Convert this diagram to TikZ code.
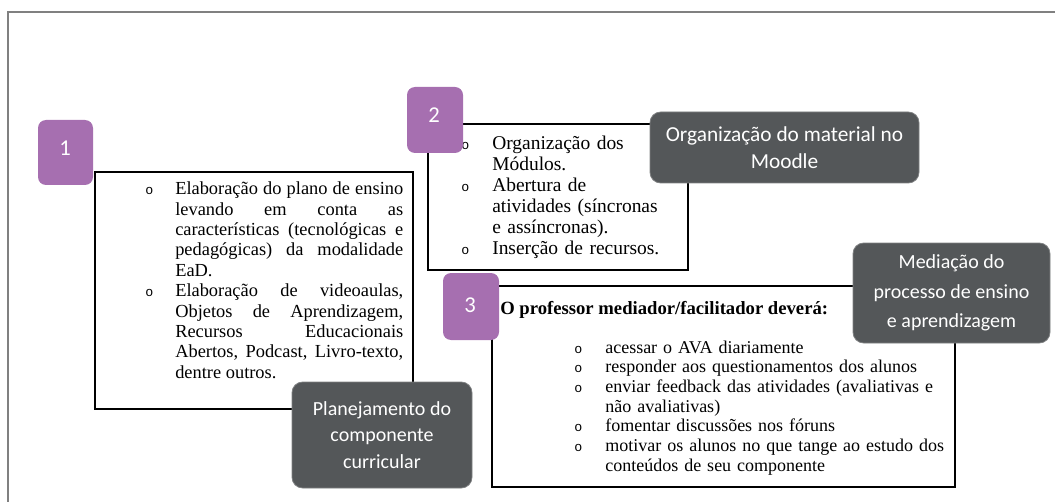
\documentclass[tikz,border=0pt]{standalone}
\usepackage{fontspec}
\setmainfont{Liberation Serif}
\newfontfamily\calibri{Carlito}
\newfontfamily\bulletfont{Liberation Mono}
\usepackage{tikz}
\definecolor{numpurple}{RGB}{166,111,176}
\definecolor{labelgray}{RGB}{84,87,89}
\definecolor{framegray}{RGB}{128,128,128}
\newcommand{\ringlabel}{\llap{\bulletfont\fontsize{10}{10}\selectfont o}}
\newenvironment{ringlist}[1]{\begin{list}{\ringlabel}{%
    \setlength{\leftmargin}{0pt}\setlength{\labelwidth}{0pt}%
    \setlength{\labelsep}{#1}\setlength{\itemindent}{0pt}%
    \setlength{\itemsep}{0pt}\setlength{\parsep}{0pt}%
    \setlength{\topsep}{0pt}\setlength{\partopsep}{0pt}}}{\end{list}}

\begin{document}
\begin{tikzpicture}[x=0.75pt,y=-0.75pt,
    listbox/.style={draw=black,line width=1pt},
    bodytext/.style={anchor=north west,inner sep=0pt},
    numbox/.style={fill=numpurple,rounded corners=6pt,inner sep=0pt},
    numtext/.style={inner sep=0pt,text=white,font=\calibri\fontsize{17}{17}\selectfont},
    tagbox/.style={fill=labelgray,draw=labelgray!75!white,line width=0.6pt,
        rounded corners=8pt,inner sep=0pt,text=white,align=center,
        font=\calibri\fontsize{15}{20}\selectfont}]
            \useasboundingbox (0,0) rectangle (1055,502);
            %Frame
            \draw[framegray,line width=1.2pt] (8,502) -- (8,12) -- (1055,12);
            %Corners of the boxes
            \coordinate (a1) at (95,172);
            \coordinate (b1) at (413,409);
            \coordinate (a2) at (428,124);
            \coordinate (b2) at (688,270);
            \coordinate (a3) at (492,286);
            \coordinate (b3) at (955,487);
            %Draw boxes
            \draw[listbox] (a1) rectangle (b1);
            \draw[listbox] (a2) rectangle (b2);
            \draw[listbox] (a3) rectangle (b3);
            %Box texts
            \node[bodytext,text width=171pt,align=justify,font=\fontsize{13.8}{15.3}\selectfont] (plano) at (175,174) {%
                \tolerance=10000\hyphenpenalty=10000
                \begin{ringlist}{16.5pt}
                \item Elaboração do plano de ensino\linebreak levando em conta as\linebreak
                    características (tecnológicas e\linebreak pedagógicas) da modalidade\linebreak EaD.
                \item Elaboração de videoaulas,\linebreak Objetos de Aprendizagem,\linebreak
                    Recursos Educacionais\linebreak Abertos, Podcast, Livro-texto,\linebreak dentre outros.
                \end{ringlist}};
            \node[bodytext,text width=160pt,font=\fontsize{14.6}{15.8}\selectfont] (modulos) at (492,128) {%
                \raggedright
                \begin{ringlist}{17.25pt}
                \item Organização dos\\ Módulos.
                \item Abertura de\\ atividades (síncronas\\ e assíncronas).
                \item Inserção de recursos.
                \end{ringlist}};
            \node[anchor=base west,inner sep=0pt,font=\bfseries\fontsize{14}{16.1}\selectfont] (tarefa) at (500,314)
                {O professor mediador/facilitador deverá:};
            \node[bodytext,text width=270pt,font=\fontsize{13.5}{14.8}\selectfont] (acoes) at (605,333) {%
                \raggedright
                \begin{ringlist}{17.25pt}
                \item acessar o AVA diariamente
                \item responder aos questionamentos dos alunos
                \item enviar feedback das atividades (avaliativas e\\ não avaliativas)
                \item fomentar discussões nos fóruns
                \item motivar os alunos no que tange ao estudo dos\\ conteúdos de seu componente
                \end{ringlist}};
            %Number squares
            \node[numbox,minimum width=41.25pt,minimum height=48.75pt] (n1) at (65.5,152.5) {};
            \node[numbox,minimum width=42pt,minimum height=49.5pt] (n2) at (435,120) {};
            \node[numbox,minimum width=42pt,minimum height=50.25pt] (n3) at (471,306.5) {};
            \node[numtext] (t1) at (65,148) {1};
            \node[numtext] (t2) at (434,115) {2};
            \node[numtext] (t3) at (470,305) {3};
            %Labels
            \node[tagbox,minimum width=201.75pt,minimum height=53.25pt,font=\calibri\fontsize{16}{20}\selectfont] (moodle) at (784.5,147.5)
                {Organização do material no\\ Moodle};
            \node[tagbox,minimum width=147.75pt,minimum height=75pt,font=\calibri\fontsize{15}{22}\selectfont] (mediacao) at (951.5,293)
                {Mediação do\\ processo de ensino\\ e aprendizagem};
            \node[tagbox,minimum width=135pt,minimum height=79.5pt] (planejamento) at (382,435)
                {Planejamento do\\ componente\\ curricular};
        \end{tikzpicture}
\end{document}
